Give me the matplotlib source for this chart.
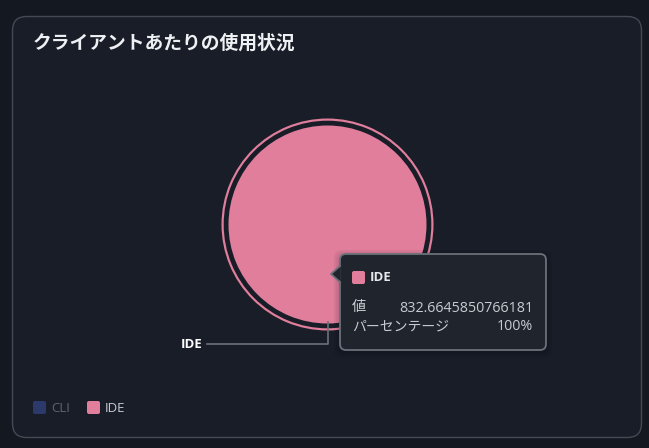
import matplotlib.pyplot as plt
from matplotlib.patches import FancyBboxPatch, Polygon

plt.rcParams['font.family'] = ['Open Sans', 'Noto Sans CJK JP', 'DejaVu Sans']

# data
title = "クライアントあたりの使用状況"
clients = ["CLI", "IDE"]
usage = [0.0, 832.6645850766181]
colors = ["#2b3a6b", "#e07e9c"]
hovered = "IDE"
value_label = "値"
percent_label = "パーセンテージ"

W, H = 649, 448
fig = plt.figure(figsize=(W / 100, H / 100), dpi=100, facecolor="#141820")


def pixel_axes(z):
    ax = fig.add_axes([0, 0, 1, 1], zorder=z)
    ax.set_xlim(0, W)
    ax.set_ylim(H, 0)
    ax.axis("off")
    ax.patch.set_alpha(0)
    return ax


bg = pixel_axes(0)
card = FancyBboxPatch((12.5, 16.5), 629, 421, boxstyle="round,pad=0,rounding_size=14",
                      facecolor="#181d27", edgecolor="#444955", linewidth=1)
bg.add_patch(card)
bg.text(33, 44, title, color="#eef0f3", fontsize=13.5, fontweight="bold", va="center", ha="left")

# pie axes: radius 1 == 100 px
cx, cy, half = 327.5, 224.5, 120
pie_ax = fig.add_axes([(cx - half) / W, (H - cy - half) / H, 2 * half / W, 2 * half / H], zorder=1)
pie_ax.pie(usage, colors=colors, radius=0.99, startangle=90, counterclock=False,
           wedgeprops=dict(linewidth=0))
# emphasis ring
pie_ax.pie(usage, colors=colors, radius=1.06, startangle=90, counterclock=False,
           wedgeprops=dict(width=0.022, linewidth=0))
pie_ax.set_xlim(-1.2, 1.2)
pie_ax.set_ylim(-1.2, 1.2)
pie_ax.axis("off")

top = pixel_axes(2)

# leader line and label
idx = clients.index(hovered)
bx, by = cx, cy + 98
top.plot([bx, bx, 207], [by, 344, 344], color="#6b7079", linewidth=1.2)
top.text(202, 344, hovered, color="#ffffff", fontsize=9.5, fontweight="bold", ha="right", va="center")

# legend
lx = 33
for name, col in zip(clients, colors):
    active = usage[clients.index(name)] > 0
    top.add_patch(FancyBboxPatch((lx, 401), 13, 13, boxstyle="round,pad=0,rounding_size=2",
                                 facecolor=col, edgecolor="none"))
    top.text(lx + 18, 408, name, color="#c8ccd2" if active else "#5e636d",
             fontsize=9.5, ha="left", va="center")
    lx += 54

# tooltip shadow
for i, a in enumerate([0.05, 0.05, 0.05]):
    top.add_patch(FancyBboxPatch((340 - 2 - 2 * i, 256 - 2 - 2 * i), 210 + 4 * i, 100 + 4 * i,
                                 boxstyle="round,pad=0,rounding_size=8", facecolor="#000000",
                                 edgecolor="none", alpha=a, zorder=4))
tip = FancyBboxPatch((340, 254), 206, 96, boxstyle="round,pad=0,rounding_size=6",
                     facecolor="#1f242d", edgecolor="#6b7079", linewidth=1.3, zorder=5)
top.add_patch(tip)
top.add_patch(Polygon([[340.8, 266], [331, 274], [340.8, 282]], closed=True,
                      facecolor="#1f242d", edgecolor="none", zorder=6))
top.plot([340, 331, 340], [266, 274, 282], color="#6b7079", linewidth=1.3, zorder=6)
top.add_patch(FancyBboxPatch((352, 271), 13, 13, boxstyle="round,pad=0,rounding_size=2",
                             facecolor=colors[idx], edgecolor="none", zorder=7))
top.text(370, 277.5, hovered, color="#e6e8eb", fontsize=9.5, fontweight="bold",
         ha="left", va="center", zorder=7)
total = sum(usage)
top.text(352, 308, value_label, color="#c8ccd2", fontsize=10.3, ha="left", va="center", zorder=7)
top.text(533, 308, repr(usage[idx]), color="#c8ccd2", fontsize=10.3, ha="right", va="center", zorder=7)
top.text(352, 327, percent_label, color="#c8ccd2", fontsize=10, ha="left", va="center", zorder=7)
top.text(533, 327, f"{usage[idx] / total * 100:.0f}%", color="#c8ccd2", fontsize=10.3,
         ha="right", va="center", zorder=7)

fig.savefig("out.png", dpi=100, facecolor=fig.get_facecolor())
